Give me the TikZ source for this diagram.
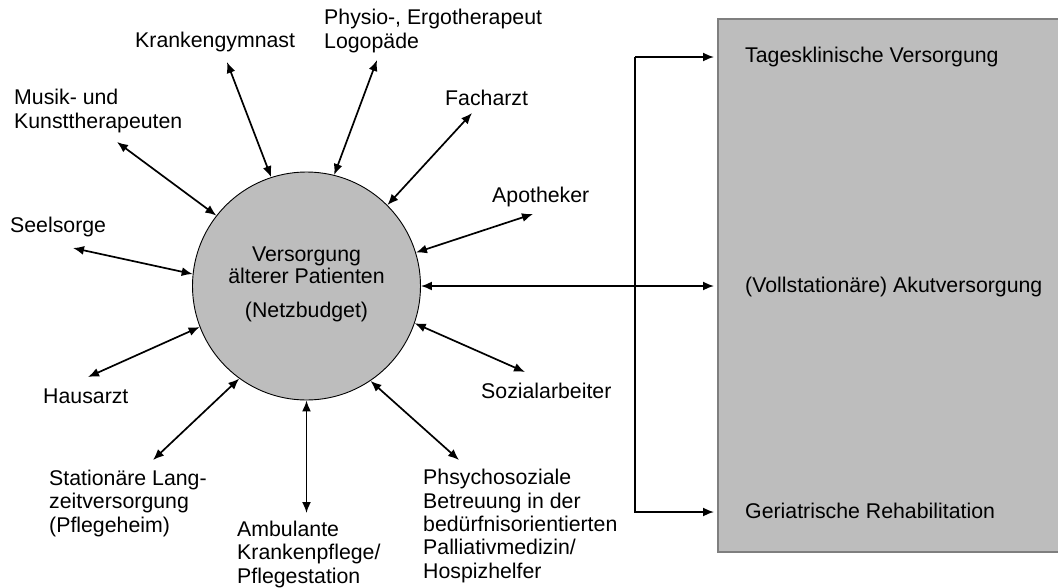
\documentclass[tikz,border=0pt]{standalone}
\usepackage{fontspec}
\setmainfont{Liberation Sans}
\usetikzlibrary{arrows.meta}
\definecolor{fillgray}{HTML}{BDBDBD}
\definecolor{framegray}{HTML}{7F7F7F}
\begin{document}
\begin{tikzpicture}[x=1pt,y=-1pt,
  lbl/.style={anchor=base west, inner sep=0pt, align=left,
    font=\fontsize{21.3}{23.3}\selectfont},
  link/.style={line width=1.7pt,
    {Latex[length=11pt,width=9pt]}-{Latex[length=11pt,width=9pt]}},
  feed/.style={line width=1.7pt, line join=miter,
    -{Latex[length=11pt,width=9pt]}, shorten >=3pt}]
\useasboundingbox (0,0) rectangle (1058,587);

% care settings on the right
\node[draw=framegray, fill=fillgray, line width=1.5pt, anchor=north west,
      minimum width=345pt, minimum height=533pt, inner sep=0pt] (care) at (717,18) {};
\node[lbl] (tv) at (745,62) {Tagesklinische Versorgung};
\node[lbl] (av) at (745,292) {(Vollstationäre) Akutversorgung};
\node[lbl] (gr) at (745,518) {Geriatrische Rehabilitation};

% central network (a multi-line node sits on its last baseline)
\node[circle, draw, fill=fillgray, line width=0.9pt, minimum size=228pt,
      inner sep=0pt] (c) at (306.5,286) {};
\node[anchor=base, inner sep=0pt, align=center,
      font=\fontsize{21.3}{22}\selectfont] (ct) at (306.5,317)
      {Versorgung\\älterer Patienten\\[12pt](Netzbudget)};

% partners around the network
\node[lbl] (kg) at (135,47) {Krankengymnast};
\node[lbl] (pe) at (324,48) {Physio-, Ergotherapeut\\Logopäde};
\node[lbl] (fa) at (445,105) {Facharzt};
\node[lbl] (mk) at (14,128) {Musik- und\\Kunsttherapeuten};
\node[lbl] (ap) at (492,202) {Apotheker};
\node[lbl] (se) at (10,232) {Seelsorge};
\node[lbl] (so) at (481,398) {Sozialarbeiter};
\node[lbl] (ha) at (43,403) {Hausarzt};
\node[lbl] (st) at (49,532) {Stationäre Lang-\\zeitversorgung\\(Pflegeheim)};
\node[lbl] (am) at (237,583) {Ambulante\\Krankenpflege/\\Pflegestation};
\node[lbl] (ps) at (423,578) {Phsychosoziale\\Betreuung in der\\bedürfnisorientierten\\Palliativmedizin/\\Hospizhelfer};

% outer arrow ends
\coordinate (kgE) at (227,62);
\coordinate (peE) at (377,60);
\coordinate (faE) at (472,113);
\coordinate (apE) at (533,214);
\coordinate (soE) at (525,372);
\coordinate (psE) at (459,460);
\coordinate (amE) at (306.5,513);
\coordinate (stE) at (153,460);
\coordinate (haE) at (88,377);
\coordinate (seE) at (73,248);
\coordinate (mkE) at (117,142);

\draw[link] (kgE) -- (c.108.8);
\draw[link] (peE) -- (c.76.2);
\draw[link] (faE) -- (c.45.8);
\draw[link] (apE) -- (c.17.6);
\draw[link] (soE) -- (c.-19.4);
\draw[link] (psE) -- (c.-56);
\draw[link] (amE) -- (c.-90);
\draw[link] (stE) -- (c.234.6);
\draw[link] (haE) -- (c.201.9);
\draw[link] (seE) -- (c.174.2);
\draw[link] (mkE) -- (c.142.3);

% links to the care settings
\coordinate (jt) at (635,57);
\coordinate (jb) at (635,512);
\draw[link, shorten >=3pt] (c.east) -- (care.west |- c.east);
\draw[feed] (jt) -- (jt -| care.west);
\draw[feed] (jt) -- (jb) -- (jb -| care.west);
\end{tikzpicture}
\end{document}
